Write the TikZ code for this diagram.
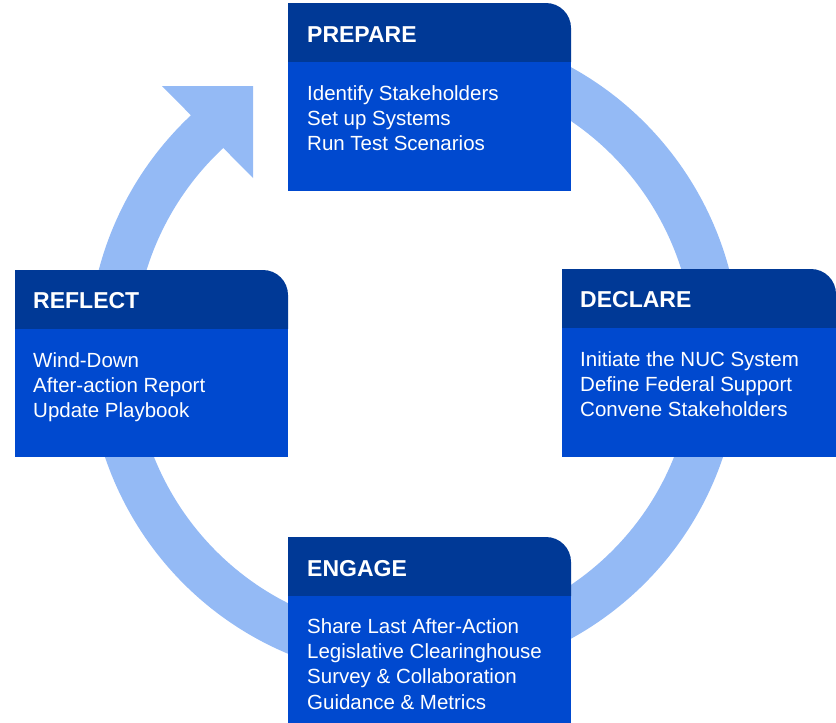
\documentclass[tikz,border=0pt]{standalone}
\usepackage{fontspec}
\setmainfont{Liberation Sans}

\definecolor{headblue}{RGB}{0,57,150}
\definecolor{bodyblue}{RGB}{0,73,207}
\definecolor{ringblue}{RGB}{148,186,245}

\tikzstyle{title} = [anchor=base west, inner sep=0pt, text=white,
    font=\fontsize{23}{27}\selectfont\bfseries]
\tikzstyle{items} = [anchor=north west, inner sep=0pt, text=white,
    align=left, font=\fontsize{20.5}{25.4}\selectfont,
    execute at begin node=\strut]
\tikzstyle{ring} = [draw=ringblue, line width=46pt]

\begin{document}
\begin{tikzpicture}[x=1pt, y=-1pt]
	\useasboundingbox (0,0) rectangle (836,723);
	% cycle arrow
	\coordinate (hub) at (414,353);
	\draw [ring] (hub) ++(-80:303) arc (-80:228:303);
	\fill [ringblue] (162,86) -- (253,86) -- (253,178) -- cycle;
	%
	\fill [headblue] (288,62) -- (288,3) -- (546,3) arc (-90:0:25) -- (571,62) -- cycle;
	\fill [bodyblue] (288,62) rectangle (571,191);
	\node [title] (prep) at (307,42) {PREPARE};
	\node [items] (prepl) at (307,85) {Identify Stakeholders\\Set up Systems\\Run Test Scenarios};
	%
	\fill [headblue] (562,328) -- (562,269) -- (811,269) arc (-90:0:25) -- (836,328) -- cycle;
	\fill [bodyblue] (562,328) rectangle (836,457);
	\node [title] (decl) at (580,307) {DECLARE};
	\node [items] (decll) at (580,351) {Initiate the NUC System\\Define Federal Support\\Convene Stakeholders};
	%
	\fill [headblue] (15,329) -- (15,270) -- (263,270) arc (-90:0:25) -- (288,329) -- cycle;
	\fill [bodyblue] (15,329) rectangle (288,457);
	\node [title] (refl) at (33,308) {REFLECT};
	\node [items] (refll) at (33,352) {Wind-Down\\After-action Report\\Update Playbook};
	%
	\fill [headblue] (288,596) -- (288,537) -- (546,537) arc (-90:0:25) -- (571,596) -- cycle;
	\fill [bodyblue] (288,596) rectangle (571,723);
	\node [title] (enga) at (307,576) {ENGAGE};
	\node [items] (engal) at (307,618) {Share Last After-Action\\Legislative Clearinghouse\\Survey \& Collaboration\\Guidance \& Metrics};
\end{tikzpicture}
\end{document}
